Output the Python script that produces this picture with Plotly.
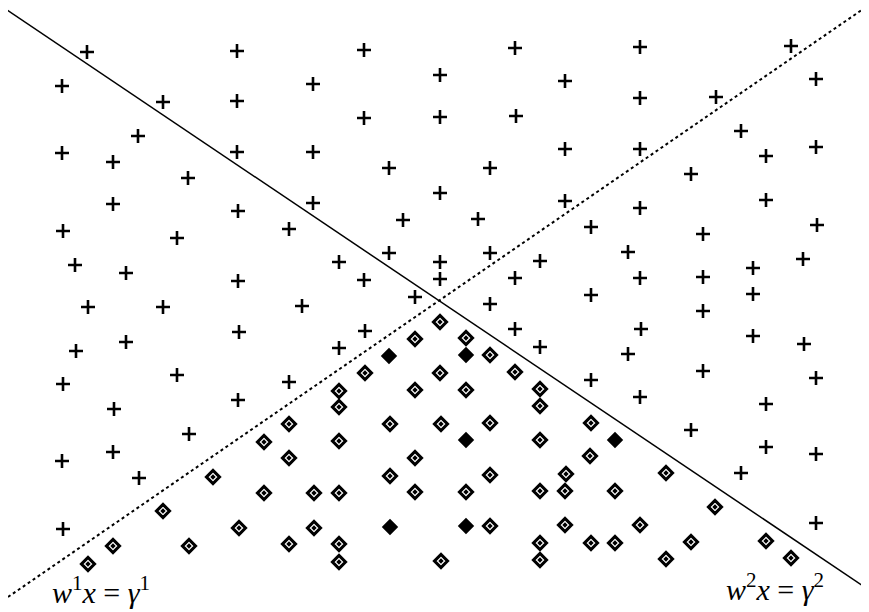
import plotly.graph_objects as go

W, H = 869, 612
PAD = 8  # default page margin of the html body

plus_x = [87, 237, 364, 515, 640, 791,
          62, 163, 237, 313, 440, 565, 640, 716, 816,
          138, 364, 440, 516, 741,
          62, 113, 237, 313, 565, 640, 766, 816,
          188, 389, 490, 691,
          113, 238, 313, 440, 565, 766, 640,
          63, 177, 289, 403, 478, 591, 703, 817,
          75, 126, 339, 389, 440, 490, 540, 628, 753, 803,
          238, 364, 440, 515, 640, 703,
          88, 163, 302, 415, 490, 591, 753, 703,
          239, 126, 76, 365, 515, 641, 753, 804, 339, 540, 628,
          63, 177, 289, 703, 591, 816,
          238, 114, 640, 766,
          189, 691,
          62, 113, 766, 816,
          139, 741,
          63, 816]
plus_y = [52, 51, 50, 48, 47, 46,
          86, 102, 101, 84, 75, 81, 98, 97, 79,
          136, 118, 117, 116, 131,
          153, 162, 152, 152, 149, 149, 156, 147,
          178, 168, 168, 174,
          204, 211, 203, 193, 201, 200, 208,
          231, 238, 229, 220, 219, 227, 234, 225,
          265, 273, 262, 253, 262, 253, 261, 252, 268, 259,
          281, 280, 279, 278, 278, 277,
          307, 307, 306, 297, 304, 295, 294, 311,
          332, 342, 351, 331, 329, 329, 336, 344, 348, 347, 354,
          384, 375, 382, 371, 380, 378,
          400, 409, 397, 404,
          434, 430,
          461, 452, 447, 454,
          478, 473,
          529, 523]

# open diamond class points
dia_x = [440, 415, 466, 490, 365, 440, 515, 339, 415, 466, 540, 339, 540,
         289, 264, 289, 213, 163, 264, 239, 113, 189, 289, 88,
         390, 441, 490, 591, 339, 540, 590, 415, 390, 490, 566, 666,
         314, 339, 415, 466, 540, 565, 615, 715,
         314, 490, 565, 640,
         339, 540, 591, 615, 691, 766,
         339, 441, 540, 666, 791]
dia_y = [322, 339, 338, 355, 373, 373, 372, 391, 390, 390, 389, 407, 406,
         424, 442, 458, 477, 511, 493, 528, 546, 546, 544, 564,
         424, 424, 423, 423, 441, 440, 456, 458, 476, 475, 474, 473,
         493, 493, 492, 492, 491, 491, 491, 507,
         528, 526, 525, 525,
         544, 543, 543, 543, 542, 541,
         562, 561, 560, 559, 558]

# filled diamond points
fdia_x = [389, 466, 466, 390, 466, 615]
fdia_y = [356, 355, 440, 527, 526, 440]

# separating planes (end points)
line1_x = [7, 869]
line1_y = [10, 590]
line2_x = [8, 869]
line2_y = [597, 5]

label1 = "<i>w</i><sup>1</sup><i>x</i> = <i>γ</i><sup>1</sup>"
label2 = "<i>w</i><sup>2</sup><i>x</i> = <i>γ</i><sup>2</sup>"


def flip(ys):
    return [H - v for v in ys]


fig = go.Figure()
fig.add_trace(go.Scatter(x=line1_x, y=flip(line1_y), mode="lines",
                         line=dict(color="black", width=1.5), hoverinfo="skip"))
fig.add_trace(go.Scatter(x=line2_x, y=flip(line2_y), mode="lines",
                         line=dict(color="black", width=2, dash="dot"), hoverinfo="skip"))
fig.add_trace(go.Scatter(x=plus_x, y=flip(plus_y), mode="markers",
                         marker=dict(symbol="cross-thin", size=10,
                                     line=dict(color="black", width=2.6))))
fig.add_trace(go.Scatter(x=dia_x, y=flip(dia_y), mode="markers",
                         marker=dict(symbol="diamond-open-dot", size=10, color="black",
                                     line=dict(color="black", width=3.1))))
fig.add_trace(go.Scatter(x=fdia_x, y=flip(fdia_y), mode="markers",
                         marker=dict(symbol="diamond", size=11, color="black",
                                     line=dict(color="black", width=1.5))))

fig.add_annotation(x=101, y=H - 590, text=label1, showarrow=False,
                   font=dict(family="Liberation Serif, DejaVu Serif, serif", size=30, color="black"))
fig.add_annotation(x=775, y=H - 587, text=label2, showarrow=False,
                   font=dict(family="Liberation Serif, DejaVu Serif, serif", size=30, color="black"))

fig.update_layout(width=W - PAD, height=H - PAD, margin=dict(l=0, r=0, t=0, b=0),
                  plot_bgcolor="white", paper_bgcolor="white", showlegend=False)
fig.update_xaxes(range=[PAD, W], visible=False, fixedrange=True)
fig.update_yaxes(range=[0, H - PAD], visible=False, fixedrange=True)

fig.write_html("out.html")
